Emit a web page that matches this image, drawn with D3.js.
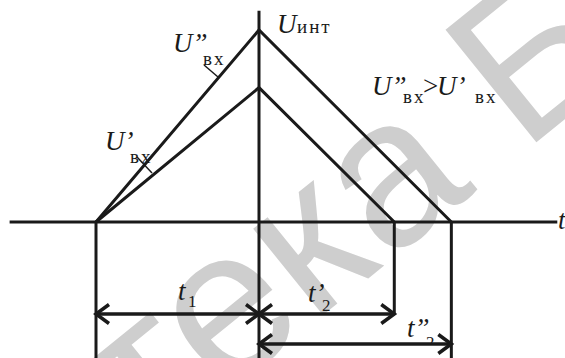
<!DOCTYPE html>
<html>
<head>
<meta charset="utf-8">
<script src="https://cdn.jsdelivr.net/npm/d3@7"></script>
<style>
  body { margin: 0; background: #fff; }
  svg { display: block; }
  text { font-family: "Liberation Serif", "Times New Roman", serif; fill: #1a1a1a; }
</style>
</head>
<body>
<svg id="chart" width="565" height="358"></svg>
<script>
// integrator output: two input voltages, same discharge slope
var tStart = 0;             // start of integration
var tSwitch = 1;            // t1 - end of integration
var tEnds = [1.83, 2.18];   // end of discharge for U'вх and U''вх
var peaks = [0.70, 1.0];    // U_инт at t1 for U'вх and U''вх
var xExtent = [-0.53, 2.83];
var yExtent = [-0.75, 1.1];

var svg = d3.select("#chart");

var xScale = d3.scaleLinear()
    .domain([0, 1])
    .range([96, 259]);

var yScale = d3.scaleLinear()
    .domain([0, 1])
    .range([222, 30]);

var ink = "#1a1a1a";

// watermark
var wmSize = 210;
var wm = svg.append("text")
    .text("Библиотека БГУИР")
    .style("font-family", "'Liberation Sans', Arial, sans-serif")
    .style("font-size", wmSize + "px")
    .style("fill", "#cecece");

var ang = -39;
var node = wm.node();
var p0 = node.getStartPositionOfChar(9);
var p1 = node.getEndPositionOfChar(9);
var cx = (p0.x + p1.x) / 2, cy = -0.26 * wmSize;
var rad = ang * Math.PI / 180;
var rx = cx * Math.cos(rad) - cy * Math.sin(rad);
var ry = cx * Math.sin(rad) + cy * Math.cos(rad);
wm.attr("transform", "translate(" + (398 - rx) + "," + (184 - ry) + ") rotate(" + ang + ")");

// axes
svg.append("line")
    .attr("x1", xScale(xExtent[0])).attr("x2", xScale(xExtent[1]))
    .attr("y1", yScale(0)).attr("y2", yScale(0))
    .attr("stroke", ink).attr("stroke-width", 3);

svg.append("line")
    .attr("x1", xScale(tSwitch)).attr("x2", xScale(tSwitch))
    .attr("y1", yScale(yExtent[1])).attr("y2", yScale(yExtent[0]))
    .attr("stroke", ink).attr("stroke-width", 3);

// integrator voltage triangles
var line = d3.line()
    .x((d) => xScale(d[0]))
    .y((d) => yScale(d[1]));

peaks.forEach(function(p, i) {
    svg.append("path")
        .attr("d", line([[tStart, 0], [tSwitch, p], [tEnds[i], 0]]))
        .attr("fill", "none")
        .attr("stroke", ink)
        .attr("stroke-width", 3)
        .attr("stroke-linejoin", "miter");
});

// dimension lines
var arrowY1 = 314, arrowY2 = 344;
var bottom = yScale(yExtent[0]);

function vline(t, y2) {
    svg.append("line")
        .attr("x1", xScale(t)).attr("x2", xScale(t))
        .attr("y1", yScale(0)).attr("y2", y2)
        .attr("stroke", ink).attr("stroke-width", 3);
}
vline(tStart, bottom);
vline(tEnds[0], arrowY1 + 1);
vline(tEnds[1], bottom);

function arrow(a, b, y) {
    var x1 = xScale(a), x2 = xScale(b);
    svg.append("line")
        .attr("x1", x1).attr("x2", x2)
        .attr("y1", y).attr("y2", y)
        .attr("stroke", ink).attr("stroke-width", 3.5);
    svg.append("path")
        .attr("d", "M" + (x1 + 13) + "," + (y - 9.5) + "L" + x1 + "," + y + "L" + (x1 + 13) + "," + (y + 9.5)
            + "M" + (x2 - 13) + "," + (y - 9.5) + "L" + x2 + "," + y + "L" + (x2 - 13) + "," + (y + 9.5))
        .attr("fill", "none")
        .attr("stroke", ink)
        .attr("stroke-width", 3.5);
}
arrow(tStart, tSwitch, arrowY1);
arrow(tSwitch, tEnds[0], arrowY1);
arrow(tSwitch, tEnds[1], arrowY2);

// leader ticks from subscripts to the lines
svg.append("line").attr("x1", 204).attr("y1", 65).attr("x2", 218).attr("y2", 77)
    .attr("stroke", ink).attr("stroke-width", 1.5);
svg.append("line").attr("x1", 137).attr("y1", 157).attr("x2", 152).attr("y2", 173)
    .attr("stroke", ink).attr("stroke-width", 1.5);

// labels
function label(x, y, s, size, italic) {
    return svg.append("text")
        .attr("x", x).attr("y", y)
        .style("font-size", size + "px")
        .style("font-style", italic ? "italic" : "normal")
        .text(s);
}
function sub(x, y, s) {
    return label(x, y, s, 19, false).style("letter-spacing", "2px");
}

label(173, 52, "U\u201D", 27, true);
sub(203, 65, "вх");

label(105, 150, "U\u2019", 27, true);
sub(130, 163, "вх");

label(277, 33, "U", 27, true);
sub(297, 33, "инт");

label(372, 95, "U\u201D", 27, true);
sub(403, 103, "вх");
label(423, 95, ">", 27, false);
label(437, 95, "U\u2019", 27, true);
sub(475, 103, "вх");

label(178, 300, "t", 27, true);
label(188, 307, "1", 17, false);

label(308, 302, "t\u2019", 27, true);
label(322, 311, "2", 17, false);

svg.append("clipPath").attr("id", "cut")
    .append("rect").attr("x", 0).attr("y", 0).attr("width", 565).attr("height", arrowY2 - 1);
label(407, 337, "t\u201D", 27, true);
label(426, 348, "2", 17, false).attr("clip-path", "url(#cut)");

label(558, 229, "t", 27, true);
</script>
</body>
</html>
